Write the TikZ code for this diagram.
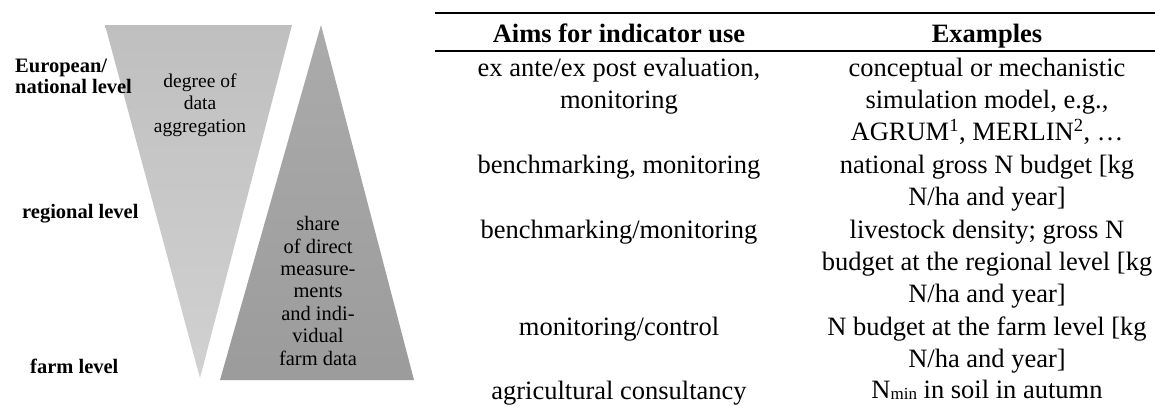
\documentclass[tikz,border=0pt]{standalone}
\usepackage{fontspec}
\setmainfont{Liberation Serif}
\begin{document}
\begin{tikzpicture}[x=1pt,y=-1pt,
  lvl/.style={anchor=base west,inner sep=0pt,align=left,font=\fontsize{20.5}{21}\selectfont\bfseries},
  tri/.style={anchor=base,inner sep=0pt,align=center,font=\fontsize{19.5}{22.2}\selectfont},
  cell/.style={anchor=base,inner sep=0pt,align=center,font=\fontsize{26.5}{32.4}\selectfont},
  head/.style={cell,font=\fontsize{26.5}{32.4}\selectfont\bfseries}]
\useasboundingbox (0,0) rectangle (1155,405);
% the two triangles
\shade[top color=black!25,bottom color=black!18] (105,25) -- (292,25) -- (200,378) -- cycle;
\shade[top color=black!33,bottom color=black!39] (321,25) -- (414,380) -- (220,380) -- cycle;
\node[lvl] (lv1) at (15,93) {European/\\national level};
\node[lvl] (lv2) at (22,218) {regional level};
\node[lvl] (lv3) at (30,373) {farm level};
\node[tri] (t1) at (200,132) {degree of\\data\\aggregation};
\node[tri,font=\fontsize{20.5}{22.4}\selectfont] (t2) at (318,365) {share\\of direct\\measure-\\ments\\and indi-\\vidual\\farm data};
% table rules
\coordinate (r1) at (435,13);
\coordinate (r2) at (1155,13);
\coordinate (r3) at (435,51);
\coordinate (r4) at (1155,51);
\draw[line width=2.6pt] (r1) -- (r2);
\draw[line width=1.4pt] (r3) -- (r4);
% aims
\node[head] (a0) at (619,42) {Aims for indicator use};
\node[cell] (a1) at (619,108.4) {ex ante/ex post evaluation,\\monitoring};
\node[cell] (a2) at (619,173) {benchmarking, monitoring};
\node[cell] (a3) at (619,238) {benchmarking/monitoring};
\node[cell] (a4) at (619,335) {monitoring/control};
\node[cell] (a5) at (619,399) {agricultural consultancy};
% examples
\node[head] (e0) at (987,42) {Examples};
\node[cell] (e1) at (987,140.8) {conceptual or mechanistic\\simulation model, e.g.,\\AGRUM\textsuperscript{1}, MERLIN\textsuperscript{2}, \ldots};
\node[cell] (e2) at (987,205.4) {national gross N budget [kg\\N/ha and year]};
\node[cell] (e3) at (987,302.8) {livestock density; gross N\\budget at the regional level [kg\\N/ha and year]};
\node[cell] (e4) at (987,367.4) {N budget at the farm level [kg\\N/ha and year]};
\node[cell] (e5) at (987,398) {N\raisebox{-1pt}{\fontsize{17}{17}\selectfont min} in soil in autumn};
\end{tikzpicture}
\end{document}
